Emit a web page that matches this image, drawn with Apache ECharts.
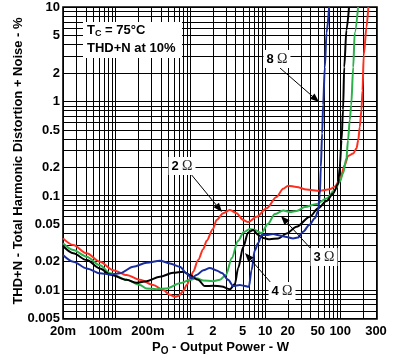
<!DOCTYPE html>
<html><head><meta charset="utf-8">
<script src="https://cdn.jsdelivr.net/npm/echarts@6/dist/echarts.min.js"></script>
<style>html,body{margin:0;padding:0;background:#fff}#c{width:400px;height:362px}</style>
</head><body><div id="c"></div>
<script>
// ---------- data ----------
const xTickValues = [0.02, 0.1, 0.2, 1, 2, 5, 10, 20, 50, 100, 300];
const xTickLabels = ['20m', '100m', '200m', '1', '2', '5', '10', '20', '50', '100', '300'];
const yTickValues = [0.005, 0.01, 0.02, 0.05, 0.1, 0.2, 0.5, 1, 2, 5, 10];
const yTickLabels = ['0.005', '0.01', '0.02', '0.05', '0.1', '0.2', '0.5', '1', '2', '5', '10'];
const xGridValues = [0.02,0.03,0.04,0.05,0.06,0.07,0.08,0.09,0.1,0.2,0.3,0.4,0.5,0.6,0.7,0.8,0.9,1,2,3,4,5,6,7,8,9,10,20,30,40,50,60,70,80,90,100,200,300];
const yGridValues = [0.005,0.006,0.007,0.008,0.009,0.01,0.02,0.03,0.04,0.05,0.06,0.07,0.08,0.09,0.1,0.2,0.3,0.4,0.5,0.6,0.7,0.8,0.9,1,2,3,4,5,6,7,8,9,10];
const seriesNames = ['2 Ω', '3 Ω', '4 Ω', '8 Ω'];
const thd2ohm = [[0.02,0.035],[0.0274,0.0298],[0.0414,0.0243],[0.0623,0.0198],[0.0937,0.0161],[0.141,0.0143],[0.213,0.0127],[0.32,0.0112],[0.435,0.0099],[0.534,0.0088],[0.623,0.0084],[0.704,0.0086],[0.804,0.0097],[0.9,0.0113],[1.0,0.0133],[1.09,0.0155],[1.27,0.0206],[1.49,0.027],[1.65,0.033],[2.0,0.044],[2.24,0.0548],[2.74,0.0646],[3.37,0.070],[4.14,0.0646],[5.07,0.0548],[5.91,0.0522],[7.65,0.0594],[10.4,0.073],[14.1,0.096],[17.3,0.118],[20.2,0.127],[26.1,0.123],[35.5,0.1155],[53.4,0.112],[72.6,0.116],[84.7,0.124],[98.7,0.146],[115,0.21],[127,0.262],[149,0.279],[165,0.316],[174,0.387],[182,0.53],[192,0.81],[198,1.3],[206,3.1],[224,6.1],[237,10]];
const thd3ohm = [[0.02,0.031],[0.0274,0.0263],[0.0414,0.0224],[0.0623,0.0182],[0.0847,0.0149],[0.141,0.0127],[0.213,0.0112],[0.261,0.0103],[0.355,0.0101],[0.483,0.0103],[0.726,0.0117],[0.987,0.0127],[1.21,0.0132],[1.49,0.0125],[2.0,0.0123],[2.48,0.0127],[2.98,0.0143],[3.58,0.0217],[4.31,0.0328],[5.18,0.0409],[6.23,0.044],[7.26,0.0429],[8.92,0.0399],[10.8,0.0497],[13.4,0.0635],[17.3,0.0691],[21.3,0.0666],[26.1,0.0683],[33.7,0.0753],[48.3,0.081],[65.6,0.093],[84.7,0.114],[98.7,0.14],[109,0.172],[121,0.248],[127,0.387],[134,0.63],[140,0.91],[149,2.3],[156,5.3],[173,10]];
const thd4ohm = [[0.02,0.029],[0.0274,0.0243],[0.0414,0.0206],[0.0623,0.0168],[0.0847,0.0145],[0.141,0.0127],[0.192,0.0118],[0.261,0.0123],[0.393,0.0137],[0.591,0.0151],[0.804,0.0155],[0.987,0.0143],[1.27,0.0127],[1.56,0.0109],[2.02,0.011],[2.61,0.0108],[3.37,0.0101],[3.93,0.0115],[4.35,0.017],[5.07,0.0283],[5.91,0.0404],[6.89,0.0429],[8.04,0.038],[9.37,0.0353],[11.5,0.0342],[14.9,0.035],[19.2,0.0394],[26.1,0.0465],[39.3,0.0594],[50.7,0.073],[65.6,0.087],[80.4,0.105],[93.7,0.132],[98.7,0.2],[104,0.387],[109,0.81],[113,2.3],[121,5.7],[131,10]];
const thd8ohm = [[0.02,0.0233],[0.0274,0.0198],[0.0414,0.0168],[0.0623,0.0149],[0.0847,0.0145],[0.115,0.0149],[0.173,0.0175],[0.261,0.0193],[0.393,0.0203],[0.534,0.019],[0.726,0.0175],[0.892,0.0149],[1.04,0.0132],[1.21,0.0143],[1.49,0.0161],[1.82,0.017],[2.24,0.016],[2.64,0.015],[3.2,0.0127],[3.73,0.0109],[4.58,0.0112],[5.18,0.011],[6.04,0.0107],[6.56,0.0161],[7.26,0.0263],[8.04,0.0312],[8.92,0.038],[10.4,0.038],[12.7,0.0389],[15.6,0.0375],[19.2,0.0362],[23.5,0.035],[27.2,0.0357],[32,0.0412],[38.5,0.0485],[45.8,0.0571],[50.7,0.0683],[53.4,0.101],[55.1,0.2],[57.3,0.456],[59.1,0.91],[62.3,2.3],[65.6,5.3],[71.1,10]];

// ---------- styles ----------
const FONT = '"Liberation Sans", Arial, Helvetica, sans-serif';
const SERIF = '"Liberation Serif", "Times New Roman", serif';
const colors = ['#ff2f1f', '#2bb24a', '#000000', '#1a2d9e'];
const xLabelShift = {'100m': -10, '200m': 10};

const chart = echarts.init(document.getElementById('c'), null, {renderer: 'canvas'});
const hiddenAxis = {
  axisLine: {show: false}, axisTick: {show: false}, axisLabel: {show: false},
  splitLine: {show: false}, minorSplitLine: {show: false}
};
chart.setOption({
  animation: false,
  backgroundColor: '#ffffff',
  grid: {left: 63, top: 7, width: 313, height: 311, show: false},
  xAxis: Object.assign({type: 'log', logBase: 10, min: 0.02, max: 300}, hiddenAxis),
  yAxis: Object.assign({type: 'log', logBase: 10, min: 0.005, max: 10}, hiddenAxis),
  series: [thd2ohm, thd3ohm, thd4ohm, thd8ohm].map((d, i) => ({
    name: seriesNames[i], type: 'line', data: d, showSymbol: false, symbol: 'none',
    smooth: 0.3, smoothMonotone: 'x', z: 5,
    lineStyle: {color: colors[i], width: 2}, itemStyle: {color: colors[i]}
  }))
});

const X = v => chart.convertToPixel({xAxisIndex: 0}, v);
const Y = v => chart.convertToPixel({yAxisIndex: 0}, v);
const g = [];
const pTop = Y(10), pBot = Y(0.005), pLeft = X(0.02), pRight = X(300);

xGridValues.forEach(v => {
  const p = Math.round(X(v)) + 0.5;
  g.push({type: 'line', silent: true, z: 1, shape: {x1: p, y1: pTop, x2: p, y2: pBot}, style: {stroke: '#000', lineWidth: 1}});
});
yGridValues.forEach(v => {
  const p = Math.round(Y(v)) + 0.5;
  g.push({type: 'line', silent: true, z: 1, shape: {x1: pLeft, y1: p, x2: pRight + 1, y2: p}, style: {stroke: '#000', lineWidth: 1}});
});
// frame
g.push({type: 'rect', silent: true, z: 2, shape: {x: pLeft, y: pTop, width: pRight - pLeft + 1, height: pBot - pTop + 1}, style: {fill: null, stroke: '#000', lineWidth: 1.6}});

// tick labels
xTickValues.forEach((v, i) => {
  const lab = xTickLabels[i];
  g.push({type: 'text', silent: true, z: 10, x: X(v) + (xLabelShift[lab] || 0), y: 331,
    style: {text: lab, font: 'bold 13px ' + FONT, fill: '#000', align: 'center', verticalAlign: 'middle', textAlign: 'center', textVerticalAlign: 'middle'}});
});
yTickValues.forEach((v, i) => {
  g.push({type: 'text', silent: true, z: 10, x: 60, y: Y(v) + 0.5,
    style: {text: yTickLabels[i], font: 'bold 13px ' + FONT, fill: '#000', align: 'right', verticalAlign: 'middle', textAlign: 'right', textVerticalAlign: 'middle'}});
});

// axis titles
g.push({type: 'text', silent: true, z: 10, x: 152, y: 347,
  style: {text: '{m|P}{s|O}{m| - Output Power - W}', align: 'left', verticalAlign: 'middle', textAlign: 'left', textVerticalAlign: 'middle',
    rich: {m: {font: 'bold 13px ' + FONT, fill: '#000', lineHeight: 18}, s: {font: 'bold 10px ' + FONT, fill: '#000', verticalAlign: 'bottom'}}}});
g.push({type: 'text', silent: true, z: 10, x: 18, y: 161, rotation: Math.PI / 2,
  style: {text: 'THD+N - Total Harmonic Distortion + Noise - %', font: 'bold 13px ' + FONT, fill: '#000', align: 'center', verticalAlign: 'middle', textAlign: 'center', textVerticalAlign: 'middle'}});

// condition box
g.push({type: 'rect', silent: true, z: 8, shape: {x: 83, y: 22, width: 99, height: 36}, style: {fill: '#fff', stroke: null}});
g.push({type: 'text', silent: true, z: 10, x: 87, y: 30,
  style: {text: '{m|T}{s|C}{m| = 75°C}', align: 'left', verticalAlign: 'middle', textAlign: 'left', textVerticalAlign: 'middle',
    rich: {m: {font: 'bold 13px ' + FONT, fill: '#000', lineHeight: 16}, s: {font: 'bold 9px ' + FONT, fill: '#000', verticalAlign: 'bottom'}}}});
g.push({type: 'text', silent: true, z: 10, x: 87, y: 48,
  style: {text: 'THD+N at 10%', font: 'bold 13px ' + FONT, fill: '#000', align: 'left', verticalAlign: 'middle', textAlign: 'left', textVerticalAlign: 'middle'}});

// annotations: label + arrow
function arrow(x1, y1, x2, y2) {
  const dx = x2 - x1, dy = y2 - y1, L = Math.sqrt(dx * dx + dy * dy);
  const ux = dx / L, uy = dy / L, hl = 9, hw = 3.5;
  const bx = x2 - ux * hl, by = y2 - uy * hl;
  g.push({type: 'line', silent: true, z: 9, shape: {x1: x1, y1: y1, x2: bx, y2: by}, style: {stroke: '#000', lineWidth: 1}});
  g.push({type: 'polygon', silent: true, z: 9, shape: {points: [[x2, y2], [bx - uy * hw, by + ux * hw], [bx + uy * hw, by - ux * hw]]}, style: {fill: '#000'}});
}
function label(num, cx, cy) {
  g.push({type: 'text', silent: true, z: 10, x: cx, y: cy,
    style: {text: '{n|' + num + '} {o|Ω}', align: 'center', verticalAlign: 'middle', textAlign: 'center', textVerticalAlign: 'middle',
      backgroundColor: '#fff', padding: [2, 3, 2, 3],
      rich: {n: {font: 'bold 13px ' + FONT, fill: '#000'}, o: {font: '14px ' + SERIF, fill: '#222'}}}});
}
arrow(190, 173, 222, 212); label('2', 182, 166);
arrow(280, 68, 319, 102); label('8', 277, 59);
arrow(312, 250, 281, 216); label('3', 324, 257);
arrow(272, 284, 245, 253); label('4', 282, 291);

chart.setOption({graphic: {elements: g}});
</script></body></html>
